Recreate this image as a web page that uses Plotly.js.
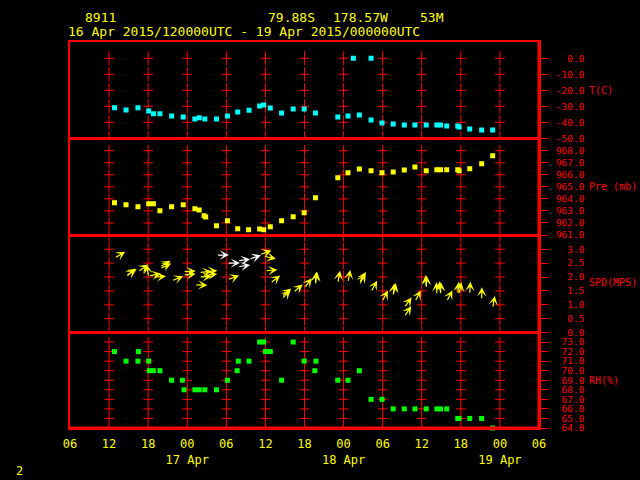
<!DOCTYPE html>
<html><head><meta charset="utf-8">
<script src="https://cdn.plot.ly/plotly-3.0.1.min.js"></script>
<style>html,body{margin:0;padding:0;background:#000;}#chart{width:640px;height:480px;}</style>
</head><body><div id="chart"></div><script>
// ---------------- DATA ----------------
const tTime = ['2015-04-16 12:50','2015-04-16 14:36','2015-04-16 16:26','2015-04-16 18:05','2015-04-16 18:48','2015-04-16 19:48','2015-04-16 21:36','2015-04-16 23:23',
 '2015-04-17 01:10','2015-04-17 01:50','2015-04-17 02:42','2015-04-17 04:29','2015-04-17 06:10','2015-04-17 07:45','2015-04-17 09:29','2015-04-17 11:07','2015-04-17 11:44','2015-04-17 12:45','2015-04-17 14:29','2015-04-17 16:16','2015-04-17 17:57','2015-04-17 19:41','2015-04-17 23:07',
 '2015-04-18 00:41','2015-04-18 01:30','2015-04-18 02:25','2015-04-18 04:13','2015-04-18 04:13','2015-04-18 05:54','2015-04-18 07:37','2015-04-18 09:19','2015-04-18 10:57','2015-04-18 12:41','2015-04-18 14:19','2015-04-18 14:53','2015-04-18 15:50','2015-04-18 17:32','2015-04-18 17:44','2015-04-18 19:22','2015-04-18 21:12','2015-04-18 22:53'];
const tVal = [-30.9,-32.3,-30.9,-32.9,-34.6,-34.6,-36.1,-36.7,-37.9,-37.1,-37.9,-37.9,-36.1,-33.6,-32.5,-29.8,-29.2,-31.1,-34.2,-31.7,-31.7,-34.2,-36.7,
 -36.1,0.0,-35.4,0.0,-38.6,-40.4,-41.1,-41.7,-41.7,-41.7,-41.7,-41.7,-42.3,-42.3,-42.9,-44.2,-44.8,-44.8];

const pTime = ['2015-04-16 12:50','2015-04-16 14:36','2015-04-16 16:26','2015-04-16 18:05','2015-04-16 18:48','2015-04-16 19:48','2015-04-16 21:36','2015-04-16 23:23',
 '2015-04-17 01:10','2015-04-17 01:50','2015-04-17 02:35','2015-04-17 02:50','2015-04-17 04:29','2015-04-17 06:10','2015-04-17 07:45','2015-04-17 09:25','2015-04-17 11:07','2015-04-17 11:44','2015-04-17 12:45','2015-04-17 14:29','2015-04-17 16:16','2015-04-17 17:57','2015-04-17 19:41','2015-04-17 23:07',
 '2015-04-18 00:41','2015-04-18 02:25','2015-04-18 04:13','2015-04-18 05:54','2015-04-18 07:37','2015-04-18 09:19','2015-04-18 10:57','2015-04-18 12:41','2015-04-18 14:19','2015-04-18 14:53','2015-04-18 15:50','2015-04-18 17:32','2015-04-18 17:44','2015-04-18 19:22','2015-04-18 21:12','2015-04-18 22:53'];
const pVal = [963.68,963.52,963.35,963.6,963.6,963.02,963.35,963.52,963.18,963.08,962.6,962.5,961.77,962.19,961.52,961.44,961.5,961.44,961.69,962.19,962.52,962.85,964.1,965.76,
 966.17,966.48,966.34,966.17,966.23,966.4,966.65,966.34,966.42,966.42,966.42,966.42,966.34,966.5,966.92,967.59];

const rhTime = ['2015-04-16 12:50','2015-04-16 14:36','2015-04-16 16:26','2015-04-16 16:30','2015-04-16 18:05','2015-04-16 18:10','2015-04-16 18:48','2015-04-16 19:48','2015-04-16 21:36','2015-04-16 23:15','2015-04-16 23:30',
 '2015-04-17 01:10','2015-04-17 01:50','2015-04-17 02:42','2015-04-17 04:29','2015-04-17 06:10','2015-04-17 07:40','2015-04-17 07:50','2015-04-17 09:29','2015-04-17 11:07','2015-04-17 11:44','2015-04-17 12:00','2015-04-17 12:45','2015-04-17 14:29','2015-04-17 16:16','2015-04-17 17:57','2015-04-17 19:35','2015-04-17 19:45','2015-04-17 23:07',
 '2015-04-18 00:41','2015-04-18 02:25','2015-04-18 04:13','2015-04-18 05:54','2015-04-18 07:37','2015-04-18 09:19','2015-04-18 10:57','2015-04-18 12:41','2015-04-18 14:19','2015-04-18 14:53','2015-04-18 15:50','2015-04-18 17:32','2015-04-18 17:44','2015-04-18 19:22','2015-04-18 21:12','2015-04-18 22:53'];
const rhVal = [72,71,71,72,71,70,70,70,69,69,68,68,68,68,68,69,70,71,71,73,73,72,72,69,73,71,70,71,69,
 69,70,67,67,66,66,66,66,66,66,66,65,65,65,65,64];

const windTime = ['2015-04-16 12:50','2015-04-16 14:36','2015-04-16 14:36','2015-04-16 16:26','2015-04-16 18:05','2015-04-16 18:05','2015-04-16 18:48','2015-04-16 19:48','2015-04-16 19:48','2015-04-16 21:36','2015-04-16 23:23','2015-04-16 23:23',
 '2015-04-17 01:10','2015-04-17 01:50','2015-04-17 01:50','2015-04-17 02:42','2015-04-17 02:42','2015-04-17 04:29','2015-04-17 06:10','2015-04-17 06:10','2015-04-17 07:45','2015-04-17 07:45','2015-04-17 09:29','2015-04-17 11:07','2015-04-17 11:44','2015-04-17 11:55','2015-04-17 12:45','2015-04-17 14:29','2015-04-17 14:29','2015-04-17 16:16','2015-04-17 17:57','2015-04-17 19:41','2015-04-17 19:41','2015-04-17 23:07',
 '2015-04-18 00:41','2015-04-18 02:25','2015-04-18 02:25','2015-04-18 04:13','2015-04-18 05:54','2015-04-18 07:37','2015-04-18 07:37','2015-04-18 09:19','2015-04-18 09:19','2015-04-18 10:57','2015-04-18 12:41','2015-04-18 12:41','2015-04-18 14:19','2015-04-18 14:53','2015-04-18 14:53','2015-04-18 15:50','2015-04-18 17:32','2015-04-18 17:44','2015-04-18 19:22','2015-04-18 21:12','2015-04-18 22:53'];
const windSpd = [2.68,1.99,2.05,2.19,2.0,2.04,1.99,2.35,2.3,1.86,2.19,2.07,
 1.72,2.16,2.0,2.05,2.2,2.79,2.5,1.9,2.58,2.37,2.64,2.8,2.75,2.22,1.78,1.21,1.3,1.44,1.6,1.72,1.75,1.78,
 1.81,1.72,1.8,1.47,1.12,1.32,1.35,0.58,0.9,1.12,1.6,1.62,1.36,1.36,1.4,1.12,1.38,1.38,1.38,1.18,0.88];
const windDir = [239,225,238,235,170,260,265,238,245,248,267,265,
 272,265,268,262,267,270,270,250,262,262,252,250,282,265,232,226,230,229,217,183,187,190,
 190,208,212,209,208,185,192,214,216,208,182,178,178,182,175,207,185,190,183,181,190];
const windFlag = [0,0,0,0,0,0,0,0,0,0,0,0,
 0,0,0,0,0,1,1,0,1,1,1,0,0,0,0,0,0,0,0,0,0,0,
 0,0,0,0,0,0,0,0,0,0,0,0,0,0,0,0,0,0,0,0,0];

const xTickVals = ['2015-04-16 06:00','2015-04-16 12:00','2015-04-16 18:00','2015-04-17 00:00','2015-04-17 06:00','2015-04-17 12:00','2015-04-17 18:00','2015-04-18 00:00','2015-04-18 06:00','2015-04-18 12:00','2015-04-18 18:00','2015-04-19 00:00','2015-04-19 06:00'];
const xTickText = ['06','12','18','00<br>17 Apr','06','12','18','00<br>18 Apr','06','12','18','00<br>19 Apr','06'];

const tTicks = [0,-10,-20,-30,-40,-50];
const pTicks = [968,967,966,965,964,963,962,961];
const sTicks = [3.0,2.5,2.0,1.5,1.0,0.5,0.0];
const rTicks = [73,72,71,70,69,68,67,66,65,64];

const panelNames = ['T(C)','Pre (mb)','SPD(MPS)','RH(%)'];
const panelNameAt = [-20, 965, 1.8, 69];
const titleLine1 = ['8911','79.88S','178.57W','53M'];
const titleLine2 = '16 Apr 2015/120000UTC - 19 Apr 2015/000000UTC';
const pageNum = '2';

// ---------------- STYLE / LAYOUT ----------------
const RED = '#ff0000', YEL = '#ffff00';
const MONO = 'DejaVu Sans Mono, monospace';
const L0 = 70, R0 = 539, T0 = 41, B0 = 428;
const px2x = p => (p - L0) / (R0 - L0);
const px2y = p => (B0 - p) / (B0 - T0);
const pad = (s, n) => { while (s.length < n) s = '\u00a0' + s; return s; };

const axesDef = [
  {name:'yaxis',  ref:'y',  domain:[0.7486,1],      range:[-50,10.8],   ticks:tTicks, gridTicks:[-50,-40,-30,-20,-10,0], seg:10},
  {name:'yaxis2', ref:'y2', domain:[0.4987,0.7486], range:[961,969.03], ticks:pTicks, gridTicks:[961,962,963,964,965,966,967,968], seg:8},
  {name:'yaxis3', ref:'y3', domain:[0.2463,0.4987], range:[0,3.51],     ticks:sTicks, gridTicks:[0,0.5,1,1.5,2,2.5,3,3.5], seg:9},
  {name:'yaxis4', ref:'y4', domain:[0,0.2463],      range:[64,73.98],   ticks:rTicks, gridTicks:[64,65,66,67,68,69,70,71,72,73], seg:7}
];

const gridTimes = xTickVals.slice(1, -1);
const traces = [];
axesDef.forEach(a => {
  const gx = [], gy = [];
  gridTimes.forEach(t => a.gridTicks.forEach(v => { gx.push(t); gy.push(v); }));
  traces.push({x:gx, y:gy, yaxis:a.ref, mode:'markers', type:'scatter', hoverinfo:'skip',
    marker:{symbol:'line-ns', size:a.seg, color:RED, line:{color:RED, width:1}}});
  traces.push({x:gx, y:gy, yaxis:a.ref, mode:'markers', type:'scatter', hoverinfo:'skip',
    marker:{symbol:'line-ew', size:7, color:RED, line:{color:RED, width:1}}});
});

traces.push({x:tTime, y:tVal, yaxis:'y', mode:'markers', type:'scatter',
  marker:{symbol:'square', size:5, color:'#00ffff', line:{width:0}}});
traces.push({x:pTime, y:pVal, yaxis:'y2', mode:'markers', type:'scatter',
  marker:{symbol:'square', size:5, color:YEL, line:{width:0}}});
traces.push({x:rhTime, y:rhVal, yaxis:'y4', mode:'markers', type:'scatter', cliponaxis:false,
  marker:{symbol:'square', size:5, color:'#00ff00', line:{width:0}}});

const annotations = [];
// wind vectors: tail at (time, speed), pointing downwind
const AL = 12.5;
windTime.forEach((t, i) => {
  const a = (270 - windDir[i]) * Math.PI / 180;
  const dx = AL * Math.cos(a), dy = AL * Math.sin(a);
  annotations.push({xref:'x', yref:'y3', x:t, y:windSpd[i], text:'', showarrow:true,
    arrowhead:3, arrowsize:1.3, arrowwidth:1.2, arrowcolor: windFlag[i] ? '#ffffff' : YEL,
    ax:-dx, ay:dy, xshift:dx, yshift:dy, standoff:0, startstandoff:0});
});

// panel names
const refs = ['y','y2','y3','y4'];
panelNames.forEach((n, i) => {
  annotations.push({xref:'paper', yref:refs[i], x:px2x(587), y:panelNameAt[i], text:n, showarrow:false,
    xanchor:'left', yanchor:'middle', font:{family:MONO, size:10, color:RED}});
});
// titles
const t1x = [83, 266, 331, 418];
titleLine1.forEach((s, i) => {
  annotations.push({xref:'paper', yref:'paper', x:px2x(t1x[i]), y:px2y(18), text:s, showarrow:false,
    xanchor:'left', yanchor:'middle', font:{family:MONO, size:13, color:YEL}});
});
annotations.push({xref:'paper', yref:'paper', x:px2x(66), y:px2y(32), text:titleLine2, showarrow:false,
  xanchor:'left', yanchor:'middle', font:{family:MONO, size:13, color:YEL}});
annotations.push({xref:'paper', yref:'paper', x:px2x(19), y:px2y(471), text:pageNum, showarrow:false,
  xanchor:'center', yanchor:'middle', font:{family:MONO, size:12, color:YEL}});

const layout = {
  width:640, height:480, showlegend:false,
  paper_bgcolor:'#000', plot_bgcolor:'#000',
  margin:{l:L0, r:640-R0, t:T0, b:480-B0, pad:0},
  xaxis:{type:'date', anchor:'y4', range:[xTickVals[0], xTickVals[xTickVals.length-1]],
    tickmode:'array', tickvals:xTickVals, ticktext:xTickText, ticks:'',
    showgrid:false, zeroline:false, showline:true, linecolor:RED, linewidth:1.5, mirror:'all',
    tickfont:{family:MONO, size:12, color:YEL}, ticklabelstandoff:4},
  annotations:annotations,
  shapes:[
    {type:'line', xref:'paper', yref:'paper', x0:0, x1:1, y0:0, y1:0, line:{color:RED, width:3}},
    {type:'line', xref:'paper', yref:'paper', x0:0, x1:1, y0:1, y1:1, line:{color:RED, width:2}},
    {type:'line', xref:'paper', yref:'paper', x0:1, x1:1, y0:0, y1:1, line:{color:RED, width:3}}
  ]
};
axesDef.forEach(a => {
  layout[a.name] = {domain:a.domain, range:a.range, anchor:'x', side:'right',
    tickmode:'array', tickvals:a.ticks, ticktext:a.ticks.map(v => pad(v.toFixed(1), 5)),
    showgrid:false, zeroline:false, showline:true, linecolor:RED, linewidth:2, mirror:true,
    ticks:'outside', ticklen:7, tickcolor:RED, tickwidth:1, ticklabelstandoff:6,
    tickfont:{family:MONO, size:9.5, color:RED}};
});

Plotly.newPlot('chart', traces, layout, {staticPlot:true, displayModeBar:false});
</script></body></html>
